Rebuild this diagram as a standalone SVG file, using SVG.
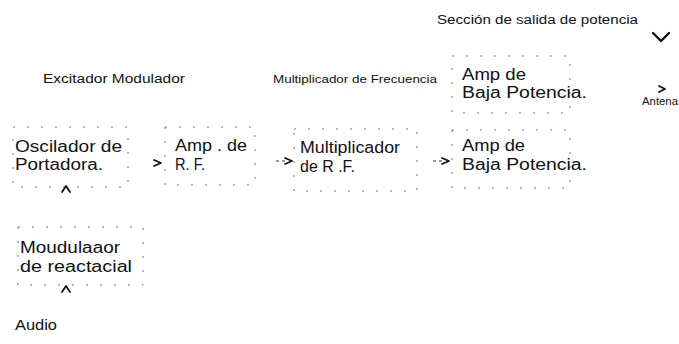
<svg xmlns="http://www.w3.org/2000/svg" width="679" height="344" viewBox="0 0 679 344">
<style>
.t{font-family:"Liberation Sans",Arial,sans-serif;fill:#111;}
.big{font-size:16px;}
.mid{font-size:15px;}
.sm{font-size:12px;}
.box{fill:none;stroke:#777;stroke-width:1;stroke-dasharray:2 12;}
.ah{fill:none;stroke:#111;stroke-width:1.8;stroke-linecap:round;stroke-linejoin:round;}
.sh{fill:none;stroke:#333;stroke-width:1;stroke-dasharray:3 3;}
</style>
<rect width="679" height="344" fill="#fff"/>
<g id="labels">
<text class="t sm" x="437" y="24" textLength="201" lengthAdjust="spacingAndGlyphs">Sección de salida de potencia</text>
<text class="t sm" x="43" y="83" textLength="142" lengthAdjust="spacingAndGlyphs">Excitador Modulador</text>
<text class="t" style="font-size:11px" x="273" y="83" textLength="164" lengthAdjust="spacingAndGlyphs">Multiplicador de Frecuencia</text>
<text class="t" style="font-size:11px" x="642" y="105" textLength="36" lengthAdjust="spacingAndGlyphs">Antena</text>
<text class="t mid" x="15" y="330" textLength="42" lengthAdjust="spacingAndGlyphs">Audio</text>
</g>
<g id="amp-top">
<rect class="box" x="452" y="56" width="118" height="57"/>
<text class="t big" x="462" y="80" textLength="64" lengthAdjust="spacingAndGlyphs">Amp de</text>
<text class="t big" x="462" y="98" textLength="125" lengthAdjust="spacingAndGlyphs">Baja Potencia.</text>
</g>
<g id="oscilador">
<rect class="box" x="13" y="127" width="115" height="60"/>
<text class="t big" x="15" y="152" textLength="107" lengthAdjust="spacingAndGlyphs">Oscilador de</text>
<text class="t big" x="15" y="170" textLength="88" lengthAdjust="spacingAndGlyphs">Portadora.</text>
</g>
<g id="amp-rf">
<rect class="box" x="165" y="127" width="90" height="58"/>
<text class="t big" x="175" y="151" textLength="72" lengthAdjust="spacingAndGlyphs">Amp . de</text>
<text class="t big" x="175" y="170" textLength="30" lengthAdjust="spacingAndGlyphs">R. F.</text>
</g>
<g id="multiplicador">
<rect class="box" x="294" y="129" width="123" height="62"/>
<text class="t big" x="300" y="153" textLength="100" lengthAdjust="spacingAndGlyphs">Multiplicador</text>
<text class="t big" x="300" y="172" textLength="55" lengthAdjust="spacingAndGlyphs">de R .F.</text>
</g>
<g id="amp-bottom">
<rect class="box" x="452" y="130" width="118" height="58"/>
<text class="t big" x="462" y="151" textLength="63" lengthAdjust="spacingAndGlyphs">Amp de</text>
<text class="t big" x="462" y="170" textLength="125" lengthAdjust="spacingAndGlyphs">Baja Potencia.</text>
</g>
<g id="modulador">
<rect class="box" x="18" y="227" width="125" height="58"/>
<text class="t big" x="20" y="253" textLength="100" lengthAdjust="spacingAndGlyphs">Moudulaaor</text>
<text class="t big" x="20" y="272" textLength="112" lengthAdjust="spacingAndGlyphs">de reactacial</text>
</g>
<g id="connectors">
<path class="ah" d="M154,160 L161,163 L154,166"/>
<path class="sh" d="M276,161 H288"/>
<path class="ah" d="M285,158 L292,161 L285,164"/>
<path class="sh" d="M433,161 H445"/>
<path class="ah" d="M442,158 L449,161 L442,164"/>
<path class="ah" d="M62,192 L66,186 L70,192"/>
<path class="ah" d="M62,292 L66,286 L70,292"/>
<path class="ah" style="stroke-width:2.4" d="M653,33 L661,41 L669,33"/>
<path class="ah" d="M659,86 L665,89 L659,92"/>
</g>
</svg>
